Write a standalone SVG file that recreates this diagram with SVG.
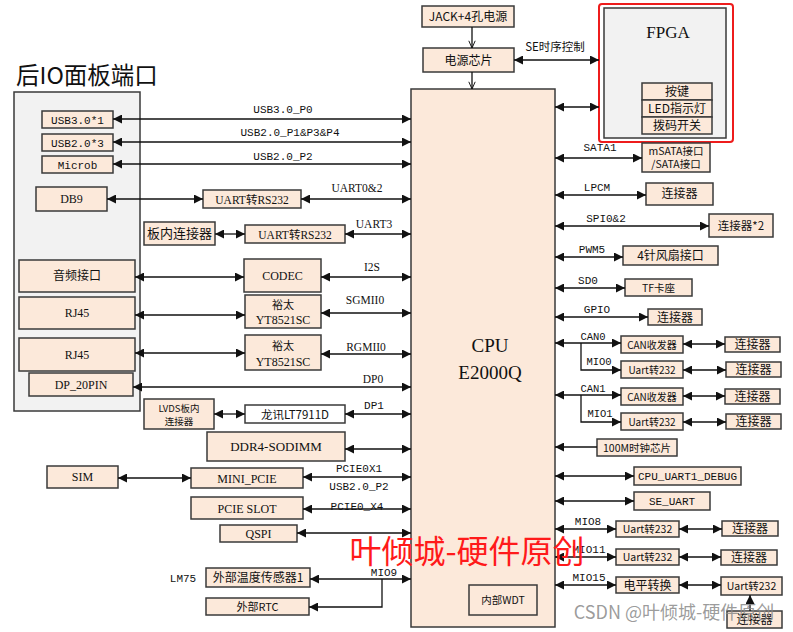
<svg xmlns="http://www.w3.org/2000/svg" width="793" height="632" viewBox="0 0 793 632">
<style>
.b{fill:#fce9da;stroke:#3a3a3a;stroke-width:1.5}
.w{fill:#ffffff;stroke:#3a3a3a;stroke-width:1.5}
.g{fill:#f2f2f2;stroke:#3a3a3a;stroke-width:1.5}
.t{font-family:"Liberation Serif","Noto Sans CJK SC",serif;font-size:12px;fill:#111;text-anchor:middle}
.m{font-family:"Liberation Mono","Noto Sans CJK SC",monospace;font-size:11px;fill:#111;text-anchor:middle}
.c{font-family:"Noto Sans CJK SC",sans-serif;font-size:12px;fill:#111;text-anchor:middle}
.l{font-family:"Liberation Mono","Noto Sans CJK SC",monospace;font-size:11px;fill:#111;text-anchor:middle}
.ls{font-family:"Liberation Serif",serif;font-size:11.5px;fill:#111;text-anchor:middle}
.k line,.k polyline{stroke:#111;stroke-width:1.3;fill:none}
.d{marker-start:url(#ah);marker-end:url(#ah)}
.e{marker-end:url(#ah)}
.o{marker-end:url(#oh)}
</style>
<defs>
<marker id="ah" viewBox="0 0 10 10" refX="10" refY="5" markerWidth="9" markerHeight="9" markerUnits="userSpaceOnUse" orient="auto-start-reverse"><path d="M0,0 L10,5 L0,10 z" fill="#111"/></marker>
<marker id="oh" viewBox="0 0 10 10" refX="10" refY="5" markerWidth="8" markerHeight="8" markerUnits="userSpaceOnUse" orient="auto"><path d="M1,1 L10,5 L1,9" fill="none" stroke="#111" stroke-width="1.2"/></marker>
</defs>
<rect width="793" height="632" fill="#ffffff"/>

<text x="16" y="84" style="font-family:'Noto Sans CJK SC',serif;font-size:23.5px;fill:#111">后IO面板端口</text>

<g id="panel"><rect class="g" x="14" y="92" width="126" height="319"/></g>
<g id="usb3"><rect class="b" x="42" y="111" width="71" height="17"/><text class="m" x="77.5" y="123.5">USB3.0*1</text></g>
<g id="usb2"><rect class="b" x="42" y="134" width="71" height="17"/><text class="m" x="77.5" y="146.5">USB2.0*3</text></g>
<g id="microb"><rect class="b" x="42" y="156" width="71" height="17"/><text class="m" x="77.5" y="168.5">Microb</text></g>
<g id="db9"><rect class="b" x="36" y="187" width="71" height="24"/><text class="t" x="71.5" y="203">DB9</text></g>
<g id="audio"><rect class="b" x="19" y="260" width="116" height="32"/><text class="c" x="77" y="280">音频接口</text></g>
<g id="rj45a"><rect class="b" x="19" y="297" width="116" height="32"/><text class="t" x="77" y="317">RJ45</text></g>
<g id="rj45b"><rect class="b" x="19" y="338" width="116" height="33"/><text class="t" x="77" y="359">RJ45</text></g>
<g id="dp20"><rect class="b" x="29" y="373" width="104" height="23"/><text class="t" x="81" y="389">DP_20PIN</text></g>

<g id="uart1"><rect class="b" x="203" y="190" width="98" height="18"/><text class="t" x="252" y="203.5" style="font-size:11.5px">UART转RS232</text></g>
<g id="inner"><rect class="b" x="144" y="222" width="71" height="23"/><text class="c" x="179.5" y="238" style="font-size:13px">板内连接器</text></g>
<g id="uart2"><rect class="b" x="245" y="225" width="100" height="18"/><text class="t" x="295" y="238.5" style="font-size:11.5px">UART转RS232</text></g>
<g id="codec"><rect class="b" x="244" y="259" width="77" height="33"/><text class="t" x="282.5" y="280">CODEC</text></g>
<g id="phy1"><rect class="b" x="245" y="295" width="76" height="33"/><text class="c" x="283" y="309" style="font-size:11px">裕太</text><text class="t" x="283" y="324">YT8521SC</text></g>
<g id="phy2"><rect class="b" x="245" y="335" width="76" height="35"/><text class="c" x="283" y="350" style="font-size:11px">裕太</text><text class="t" x="283" y="366">YT8521SC</text></g>
<g id="lvds"><rect class="b" x="144" y="399" width="70" height="30"/><text class="c" x="179" y="412" style="font-size:9.5px">LVDS板内</text><text class="c" x="179" y="425" style="font-size:9.5px">连接器</text></g>
<g id="lt7911"><rect class="w" x="245" y="405" width="100" height="18"/><text class="c" x="295" y="418.5" style="font-size:11.5px">龙讯LT7911D</text></g>
<g id="ddr4"><rect class="b" x="207" y="432" width="138" height="29"/><text class="t" x="276" y="451" style="font-size:13px">DDR4-SODIMM</text></g>
<g id="sim"><rect class="b" x="47" y="466" width="71" height="22"/><text class="t" x="82.5" y="481">SIM</text></g>
<g id="minipcie"><rect class="b" x="191" y="468" width="112" height="20"/><text class="t" x="247" y="482.5">MINI_PCIE</text></g>
<g id="pcieslot"><rect class="b" x="191" y="497" width="112" height="22"/><text class="t" x="247" y="512.5">PCIE SLOT</text></g>
<g id="qspi"><rect class="b" x="220" y="525" width="77" height="17"/><text class="t" x="258.5" y="537.5">QSPI</text></g>
<text x="183" y="582" class="m">LM75</text>
<g id="temp"><rect class="b" x="206" y="568" width="104" height="19"/><text class="c" x="258" y="582">外部温度传感器1</text></g>
<g id="rtc"><rect class="b" x="206" y="598" width="103" height="17"/><text class="c" x="257.5" y="610.5" style="font-size:11px">外部RTC</text></g>

<g id="cpu"><rect class="b" x="411" y="89" width="144" height="538"/><text class="t" x="490" y="352" style="font-size:19px">CPU</text><text class="t" x="490" y="379" style="font-size:19px">E2000Q</text></g>
<g id="wdt"><rect class="b" x="469" y="585" width="68" height="30"/><text class="c" x="503" y="604" style="font-size:10.5px">内部WDT</text></g>

<g id="jack"><rect class="b" x="422" y="6" width="92" height="21"/><text class="c" x="468" y="21">JACK+4孔电源</text></g>
<g id="power"><rect class="b" x="423" y="48" width="91" height="24"/><text class="c" x="468.5" y="64.5">电源芯片</text></g>
<g id="fpga"><rect x="599" y="4" width="134" height="138" rx="3" fill="none" stroke="#ee1c1c" stroke-width="2"/><rect class="g" x="604" y="8" width="122" height="130"/><text class="t" x="668" y="38" style="font-size:17px">FPGA</text>
<rect class="b" x="642" y="83" width="70" height="17"/><text class="c" x="677" y="96">按键</text>
<rect class="b" x="642" y="100" width="70" height="17"/><text class="c" x="677" y="113">LED指示灯</text>
<rect class="b" x="642" y="117" width="70" height="17"/><text class="c" x="677" y="130">拨码开关</text></g>

<g id="sata"><rect class="b" x="642" y="143" width="68" height="29"/><text class="c" x="676" y="155" style="font-size:10.5px">mSATA接口</text><text class="c" x="676" y="168" style="font-size:10.5px">/SATA接口</text></g>
<g id="lpcconn"><rect class="b" x="646" y="183" width="67" height="22"/><text class="c" x="679.5" y="198">连接器</text></g>
<g id="spiconn"><rect class="b" x="709" y="214" width="64" height="23"/><text class="c" x="741" y="229.5" style="font-size:11.5px">连接器*2</text></g>
<g id="fan"><rect class="b" x="623" y="246" width="95" height="19"/><text class="c" x="670.5" y="260">4针风扇接口</text></g>
<g id="tf"><rect class="b" x="625" y="279" width="67" height="17"/><text class="c" x="658.5" y="291.5" style="font-size:10.5px">TF卡座</text></g>
<g id="gpioconn"><rect class="b" x="648" y="309" width="54" height="16"/><text class="c" x="675" y="321.5">连接器</text></g>
<g id="can0"><rect class="b" x="621" y="336" width="62" height="17"/><text class="c" x="652" y="348.5" style="font-size:10px">CAN收发器</text></g>
<g id="can0conn"><rect class="b" x="725" y="337" width="55" height="15"/><text class="c" x="752.5" y="349">连接器</text></g>
<g id="u0"><rect class="b" x="621" y="361" width="62" height="17"/><text class="c" x="652" y="373.5" style="font-size:10px">Uart转232</text></g>
<g id="u0conn"><rect class="b" x="726" y="362" width="55" height="15"/><text class="c" x="753.5" y="374">连接器</text></g>
<g id="can1"><rect class="b" x="621" y="388" width="62" height="17"/><text class="c" x="652" y="400.5" style="font-size:10px">CAN收发器</text></g>
<g id="can1conn"><rect class="b" x="725" y="389" width="55" height="15"/><text class="c" x="752.5" y="401">连接器</text></g>
<g id="u1"><rect class="b" x="621" y="413" width="62" height="17"/><text class="c" x="652" y="425.5" style="font-size:10px">Uart转232</text></g>
<g id="u1conn"><rect class="b" x="726" y="414" width="55" height="15"/><text class="c" x="753.5" y="426">连接器</text></g>
<g id="clk"><rect class="b" x="597" y="439" width="80" height="17"/><text class="c" x="637" y="451.5" style="font-size:10.5px">100M时钟芯片</text></g>
<g id="debug"><rect class="b" x="634" y="467" width="107" height="18"/><text class="m" x="687.5" y="480">CPU_UART1_DEBUG</text></g>
<g id="seuart"><rect class="b" x="634" y="492" width="76" height="18"/><text class="m" x="672" y="505">SE_UART</text></g>
<g id="u8"><rect class="b" x="616" y="521" width="63" height="16"/><text class="c" x="647.5" y="533" style="font-size:10.5px">Uart转232</text></g>
<g id="u8conn"><rect class="b" x="722" y="521" width="56" height="15"/><text class="c" x="750" y="533">连接器</text></g>
<g id="u11"><rect class="b" x="616" y="549" width="63" height="16"/><text class="c" x="647.5" y="561" style="font-size:10.5px">Uart转232</text></g>
<g id="u11conn"><rect class="b" x="721" y="550" width="56" height="15"/><text class="c" x="749" y="562">连接器</text></g>
<g id="level"><rect class="b" x="616" y="577" width="63" height="16"/><text class="c" x="647.5" y="589.5">电平转换</text></g>
<g id="u15"><rect class="b" x="721" y="577" width="61" height="18"/><text class="c" x="751.5" y="590" style="font-size:10.5px">Uart转232</text></g>
<g id="u15conn"><rect class="b" x="727" y="611" width="55" height="17"/><text class="c" x="754.5" y="623.5">连接器</text></g>

<g id="connectors" class="k">
<line class="o" x1="472" y1="27" x2="472" y2="48"/>
<line class="o" x1="472" y1="72" x2="472" y2="89"/>
<line class="d" x1="514" y1="60" x2="599" y2="60"/>
<line class="d" x1="555" y1="107" x2="599" y2="107"/>
<line class="d" x1="555" y1="158" x2="642" y2="158"/>
<line class="d" x1="555" y1="195" x2="646" y2="195"/>
<line class="d" x1="555" y1="226" x2="709" y2="226"/>
<line class="d" x1="555" y1="257" x2="623" y2="257"/>
<line class="d" x1="555" y1="288" x2="625" y2="288"/>
<line class="d" x1="555" y1="317" x2="648" y2="317"/>
<line class="d" x1="555" y1="343" x2="621" y2="343"/>
<polyline class="e" points="581,343 581,370 621,370"/>
<line class="d" x1="683" y1="344" x2="725" y2="344"/>
<line class="d" x1="683" y1="370" x2="726" y2="370"/>
<line class="d" x1="555" y1="395" x2="621" y2="395"/>
<polyline class="e" points="581,395 581,422 621,422"/>
<line class="d" x1="683" y1="396" x2="725" y2="396"/>
<line class="d" x1="683" y1="422" x2="726" y2="422"/>
<line class="e" x1="597" y1="447" x2="555" y2="447"/>
<line class="d" x1="555" y1="476" x2="634" y2="476"/>
<line class="d" x1="555" y1="501" x2="634" y2="501"/>
<line class="d" x1="555" y1="529" x2="616" y2="529"/>
<line class="d" x1="679" y1="529" x2="722" y2="529"/>
<line class="d" x1="555" y1="557" x2="616" y2="557"/>
<line class="d" x1="679" y1="557" x2="721" y2="557"/>
<line class="d" x1="555" y1="585" x2="616" y2="585"/>
<line class="d" x1="679" y1="585" x2="721" y2="585"/>
<line class="e" x1="750" y1="611" x2="750" y2="595"/>

<line class="d" x1="113" y1="119" x2="411" y2="119"/>
<line class="d" x1="113" y1="142" x2="411" y2="142"/>
<line class="d" x1="113" y1="164" x2="411" y2="164"/>
<line class="d" x1="107" y1="199" x2="203" y2="199"/>
<line class="d" x1="301" y1="199" x2="411" y2="199"/>
<line class="d" x1="215" y1="234" x2="245" y2="234"/>
<line class="d" x1="345" y1="234" x2="411" y2="234"/>
<line class="d" x1="135" y1="277" x2="244" y2="277"/>
<line class="d" x1="321" y1="277" x2="411" y2="277"/>
<line class="d" x1="135" y1="315" x2="245" y2="315"/>
<line class="d" x1="321" y1="313" x2="411" y2="313"/>
<line class="d" x1="135" y1="353" x2="245" y2="353"/>
<line class="d" x1="321" y1="354" x2="411" y2="354"/>
<line class="d" x1="133" y1="387" x2="411" y2="387"/>
<line class="d" x1="214" y1="414" x2="245" y2="414"/>
<line class="d" x1="345" y1="414" x2="411" y2="414"/>
<line class="d" x1="345" y1="449" x2="411" y2="449"/>
<line class="d" x1="118" y1="478" x2="191" y2="478"/>
<line class="d" x1="303" y1="477" x2="411" y2="477"/>
<line class="d" x1="303" y1="509" x2="411" y2="509"/>
<line class="d" x1="297" y1="533" x2="411" y2="533"/>
<line class="d" x1="310" y1="579" x2="411" y2="579"/>
<polyline class="e" points="382,579 382,607 309,607"/>
</g>

<g id="labels">
<text class="c" x="555" y="51" style="font-size:11.5px">SE时序控制</text>
<text class="l" x="600" y="151">SATA1</text>
<text class="l" x="597" y="191">LPCM</text>
<text class="l" x="606" y="222">SPI0&amp;2</text>
<text class="l" x="592" y="253">PWM5</text>
<text class="l" x="588" y="284">SD0</text>
<text class="l" x="597" y="313">GPIO</text>
<text class="l" x="593" y="340" style="font-size:10.5px">CAN0</text>
<text class="l" x="599" y="365" style="font-size:10.5px">MIO0</text>
<text class="l" x="593" y="392" style="font-size:10.5px">CAN1</text>
<text class="l" x="600" y="417" style="font-size:10.5px">MIO1</text>
<text class="l" x="588" y="525">MIO8</text>
<text class="l" x="589" y="553">MIO11</text>
<text class="l" x="589" y="581">MIO15</text>

<text class="l" x="283" y="113">USB3.0_P0</text>
<text class="l" x="290" y="136">USB2.0_P1&amp;P3&amp;P4</text>
<text class="l" x="283" y="160">USB2.0_P2</text>
<text class="ls" x="357" y="192">UART0&amp;2</text>
<text class="ls" x="374" y="228">UART3</text>
<text class="ls" x="372" y="271">I2S</text>
<text class="ls" x="365" y="304">SGMII0</text>
<text class="ls" x="366" y="351">RGMII0</text>
<text class="ls" x="373" y="383">DP0</text>
<text class="l" x="374" y="409">DP1</text>
<text class="l" x="359" y="472">PCIE0X1</text>
<text class="l" x="359" y="490">USB2.0_P2</text>
<text class="l" x="357" y="510">PCIE0_X4</text>
<text class="l" x="384" y="576">MIO9</text>
</g>

<text x="467" y="563" style="font-family:'Noto Sans CJK SC',sans-serif;font-size:32px;fill:#ff1a1a;text-anchor:middle">叶倾城-硬件原创</text>
<text x="674" y="619" style="font-family:'Noto Sans CJK SC',sans-serif;font-size:18px;fill:#8a8a8a;fill-opacity:0.85;text-anchor:middle">CSDN @叶倾城-硬件原创</text>
</svg>
